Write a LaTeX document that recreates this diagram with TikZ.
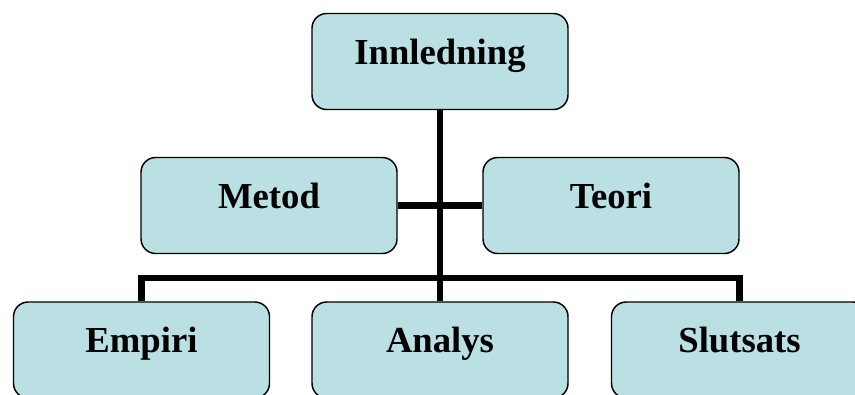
\documentclass[tikz,border=0pt]{standalone}
\usepackage{fontspec}
\setmainfont{Liberation Serif}
\definecolor{boxfill}{RGB}{187,224,227}
\tikzset{every picture/.style={line width=0.75pt}}
\tikzset{chartbox/.style={draw=black,fill=boxfill,line width=1.1pt,rounded corners=11pt,minimum width=192pt,minimum height=72pt,inner sep=0pt,text height=2ex+4pt,text depth=2ex,font=\fontsize{27.5}{33}\selectfont\bfseries},
  link/.style={draw=black,line width=4.6pt}}

\begin{document}
\begin{tikzpicture}[x=0.75pt,y=0.75pt,yscale=-1,xscale=1]
\useasboundingbox (0,0) rectangle (855,394);
\clip (0,0) rectangle (855,394);

% Text Node
\node[chartbox] (intro) at (440,61.5) {Innledning};
% Text Node
\node[chartbox] (metod) at (269,205.5) {Metod};
% Text Node
\node[chartbox] (teori) at (611,205.5) {Teori};
% Text Node
\node[chartbox] (empiri) at (141.5,350) {Empiri};
% Text Node
\node[chartbox] (analys) at (440,350) {Analys};
% Text Node
\node[chartbox] (slutsats) at (739.5,350) {Slutsats};
\coordinate (bar) at (440,278);

% Connection
\draw[link] (intro.south) -- (analys.north) ;
% Connection
\draw[link] (metod.east) -- (teori.west) ;
% Connection
\draw[link] (empiri.north) |- (bar) -| (slutsats.north) ;

\end{tikzpicture}
\end{document}
